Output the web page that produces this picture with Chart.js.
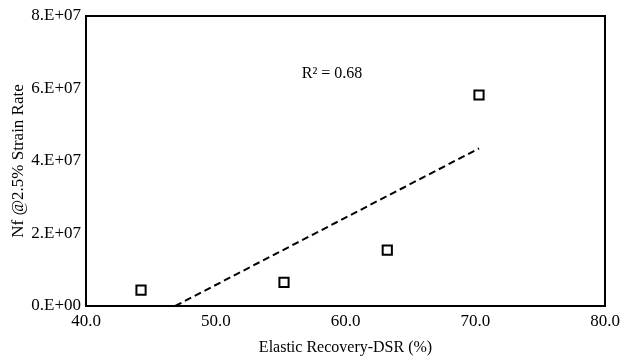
<!DOCTYPE html>
<html>
<head>
<meta charset="utf-8">
<script src="https://cdn.jsdelivr.net/npm/chart.js@4"></script>
<style>
  html, body { margin: 0; padding: 0; background: #fff; }
  #wrap { width: 623px; height: 358px; }
</style>
</head>
<body>
<div id="wrap"><canvas id="chart"></canvas></div>
<script>
// Elastic recovery (%) vs. fatigue life at 2.5% strain
const recovery = [44.24, 55.26, 63.22, 70.29];
const fatigueLife = [4.4e6, 6.5e6, 1.54e7, 5.82e7];
const xTicks = [40, 50, 60, 70, 80];
const xTickLabels = ['40.0', '50.0', '60.0', '70.0', '80.0'];
const yTicks = [0, 2e7, 4e7, 6e7, 8e7];
const yTickLabels = ['0.E+00', '2.E+07', '4.E+07', '6.E+07', '8.E+07'];
const rSquaredLabel = 'R² = 0.68';

// least-squares fit of the points
function linearFit(xs, ys) {
	const n = xs.length;
	const mx = xs.reduce((a, b) => a + b, 0) / n;
	const my = ys.reduce((a, b) => a + b, 0) / n;
	let sxy = 0, sxx = 0;
	for (let i = 0; i < n; i++) {
		sxy += (xs[i] - mx) * (ys[i] - my);
		sxx += (xs[i] - mx) * (xs[i] - mx);
	}
	const slope = sxy / sxx;
	return { slope, intercept: my - slope * mx };
}

const fit = linearFit(recovery, fatigueLife);
const trendStart = Math.max(Math.min(...recovery), -fit.intercept / fit.slope);
const trendEnd = Math.max(...recovery);
const trendLine = [trendStart, trendEnd].map(x => ({ x, y: fit.slope * x + fit.intercept }));

const FONT = '"Liberation Serif", "Times New Roman", serif';

const frame = {
	id: 'frame',
	afterDatasetsDraw(chart) {
		const { ctx, chartArea: a, scales } = chart;
		ctx.save();
		ctx.strokeStyle = '#000';
		ctx.lineWidth = 2;
		ctx.strokeRect(a.left, a.top, a.right - a.left, a.bottom - a.top);
		ctx.fillStyle = '#000';
		ctx.font = '16px ' + FONT;
		ctx.textAlign = 'center';
		ctx.textBaseline = 'middle';
		ctx.fillText(rSquaredLabel, scales.x.getPixelForValue(58.96), scales.y.getPixelForValue(6.4e7));
		ctx.restore();
	}
};

new Chart(document.getElementById('chart'), {
	type: 'scatter',
	data: {
		datasets: [
			{
				label: 'Nf',
				data: recovery.map((x, i) => ({ x, y: fatigueLife[i] })),
				pointStyle: 'rect',
				pointRadius: 6.5,
				pointBorderWidth: 2,
				pointBorderColor: '#000',
				pointBackgroundColor: '#fff',
				order: 1,
			},
			{
				label: 'Linear',
				data: trendLine,
				showLine: true,
				borderColor: '#000',
				borderWidth: 2,
				borderDash: [7, 4],
				pointRadius: 0,
				order: 2,
			},
		],
	},
	options: {
		responsive: true,
		maintainAspectRatio: false,
		animation: false,
		layout: { padding: { top: 16, right: 18, left: 0, bottom: 0 } },
		plugins: {
			legend: { display: false },
			tooltip: { enabled: false },
		},
		scales: {
			x: {
				type: 'linear',
				min: 40,
				max: 80,
				afterBuildTicks: axis => { axis.ticks = xTicks.map(v => ({ value: v })); },
				afterFit: axis => {
					axis.height = 52;
					axis.paddingLeft = 0;
					axis.paddingRight = 0;
				},
				grid: { display: false, drawTicks: false },
				border: { display: false },
				ticks: {
					padding: 5,
					color: '#000',
					font: { family: FONT, size: 17 },
					callback: (v) => xTickLabels[xTicks.indexOf(v)],
				},
				title: {
					display: true,
					text: 'Elastic Recovery-DSR (%)',
					color: '#000',
					font: { family: FONT, size: 16 },
					padding: { top: 0, bottom: 1 },
				},
			},
			y: {
				type: 'linear',
				min: 0,
				max: 8e7,
				afterBuildTicks: axis => { axis.ticks = yTicks.map(v => ({ value: v })); },
				afterFit: axis => { axis.width = 86; },
				grid: { display: false, drawTicks: false },
				border: { display: false },
				ticks: {
					padding: 5,
					color: '#000',
					font: { family: FONT, size: 17 },
					callback: (v) => yTickLabels[yTicks.indexOf(v)],
				},
				title: {
					display: true,
					text: 'Nf @2.5% Strain Rate',
					color: '#000',
					font: { family: FONT, size: 17 },
					padding: { top: 8, bottom: 0 },
				},
			},
		},
	},
	plugins: [frame],
});
</script>
</body>
</html>
